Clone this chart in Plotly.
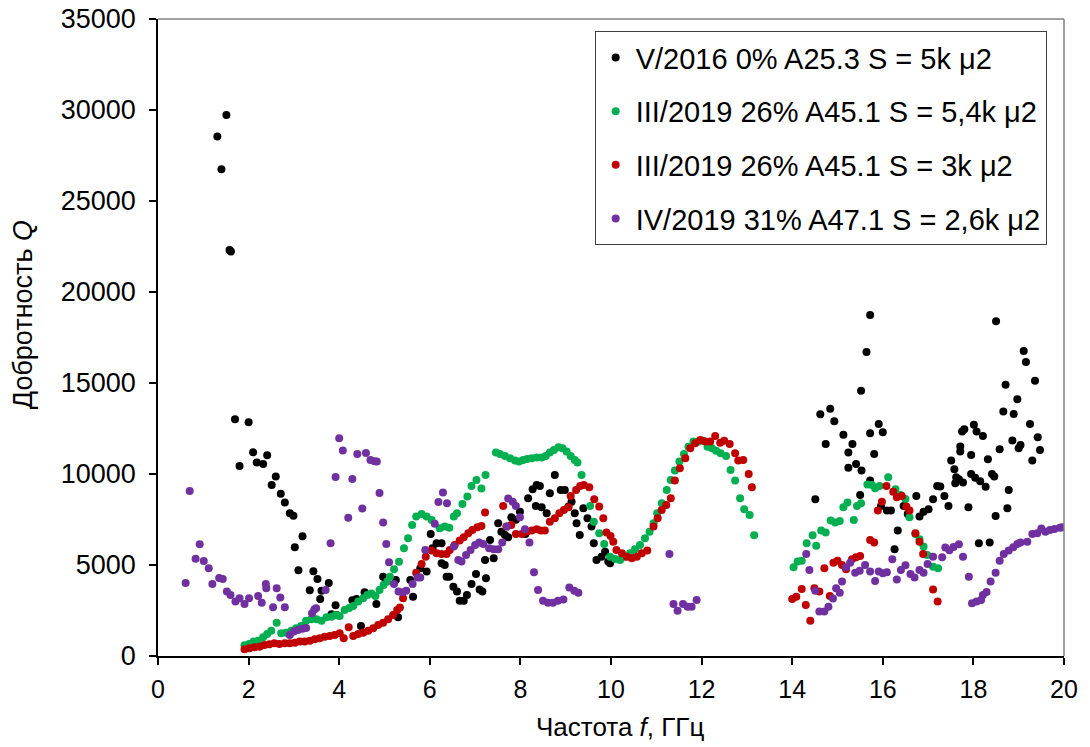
import plotly.graph_objects as go

# Quality factor Q versus frequency f (GHz) for four samples

names = [
    "V/2016 0% A25.3 S = 5k μ2",
    "III/2019 26% A45.1 S = 5,4k μ2",
    "III/2019 26% A45.1 S = 3k μ2",
    "IV/2019 31% A47.1 S = 2,6k μ2",
]
colors = ["#000000", "#00B050", "#C00000", "#7030A0"]

f_v2016 = [
    1.31, 1.40, 1.51, 1.58, 1.61, 1.70, 1.80, 2.00, 2.10, 2.18, 2.32, 2.41, 2.51, 2.60,
    2.71, 2.80, 2.91, 2.99, 3.02, 3.10, 3.19, 3.35, 3.43, 3.52, 3.58, 3.61, 3.77, 3.83,
    3.92, 3.94, 4.29, 4.38, 4.48, 4.56, 4.82, 4.97, 5.03, 5.25, 5.30, 5.57, 5.63, 5.79,
    5.93, 6.02, 6.06, 6.15, 6.26, 6.26, 6.33, 6.37, 6.43, 6.52, 6.60, 6.66, 6.75, 6.82,
    6.92, 7.02, 7.10, 7.16, 7.24, 7.22, 7.33, 7.41, 7.51, 7.58, 7.66, 7.73, 7.80, 7.90,
    7.99, 8.11, 8.17, 8.27, 8.36, 8.43, 8.34, 8.47, 8.58, 8.65, 8.76, 8.89, 8.98, 9.06,
    9.13, 9.20, 9.24, 9.31, 9.39, 9.48, 9.57, 9.62, 9.68, 9.79, 9.87, 9.94, 9.98,
    14.51, 14.62, 14.74, 14.84, 14.93, 15.13, 15.24, 15.33, 15.24, 15.41, 15.53, 15.52,
    15.50, 15.64, 15.72, 15.72, 15.81, 15.91, 16.00, 15.72, 15.96, 16.09, 16.18, 16.33,
    16.26, 16.46, 16.55, 16.74, 16.81, 16.90, 17.01, 17.11, 17.20, 17.27, 17.36, 17.45,
    17.51, 17.58, 17.62, 17.68, 17.71, 17.75, 17.80, 17.71, 17.60, 17.77, 17.89, 17.95,
    18.01, 18.07, 18.21, 17.95, 18.04, 18.15, 18.27, 18.32, 18.41, 18.46, 18.12, 18.36,
    18.49, 18.50, 18.58, 18.66, 18.71, 18.75, 18.78, 18.89, 18.97, 18.86, 19.00, 19.04,
    19.11, 19.16, 19.25, 19.30, 19.36, 19.42, 19.47,
]
q_v2016 = [
    28540, 26740, 29730, 22310, 22220, 13010, 10440, 12840, 11190, 10630, 10550, 11030, 9400, 9860,
    8920, 8430, 7840, 7710, 5970, 4710, 6580, 3610, 4650, 4230, 3130, 3590, 4010, 2290,
    2790, 2250, 3060, 3130, 1650, 3500, 2860, 4360, 4090, 4180, 2130, 4180, 3260, 4820,
    4640, 6710, 5920, 6190, 5090, 6190, 5000, 4360, 4360, 3810, 3540, 3040, 3040, 3350,
    3960, 4510, 3660, 3540, 4270, 5280, 6380, 5370, 7290, 6830, 6650, 6520, 7620, 7480,
    7930, 6710, 8670, 9160, 9400, 9340, 8240, 8170, 7840, 8940, 9950, 9120, 9120, 8210,
    8480, 7840, 7290, 6650, 8120, 7570, 7110, 6190, 5280, 5460, 5730, 5190, 5090,
    8610, 13280, 11650, 13590, 12900, 12150, 11180, 11650, 10350, 10550, 10190, 14580,
    8850, 16710, 18740, 12240, 11100, 12750, 12290, 9640, 8240, 7990, 7990, 6890,
    5860, 8240, 7800, 8790, 7660, 7930, 8060, 8610, 9340, 9310, 8790, 8240,
    10740, 10260, 9820, 9710, 11510, 12330, 12460, 11230, 9490, 9530, 8170, 11050,
    12700, 12330, 12090, 10000, 9800, 9600, 9300, 10810, 10000, 9860, 6190, 6230,
    7690, 18390, 11360, 13430, 14900, 8120, 9120, 13300, 14110, 11840, 11410, 11600,
    16760, 16160, 12750, 10740, 15130, 12020, 11320,
]

f_iii2019_54k = [
    1.91, 2.01, 2.11, 2.21, 2.32, 2.41, 2.50, 2.62, 2.72, 2.83, 2.94, 3.05, 3.16, 3.27,
    3.38, 3.50, 3.61, 3.72, 3.83, 3.92, 4.01, 4.12, 4.22, 4.31, 4.42, 4.53, 4.62, 4.71,
    4.80, 4.89, 4.98, 5.06, 5.12, 5.21, 5.32, 5.43, 5.52, 5.61, 5.70, 5.82, 5.93, 6.04,
    6.22, 6.33, 6.43, 6.53, 6.60, 6.72, 6.83, 6.92, 7.03, 7.14, 7.23, 7.46, 7.55, 7.66,
    7.77, 7.88, 7.97, 8.06, 8.15, 8.25, 8.36, 8.47, 8.56, 8.65, 8.74, 8.84, 8.93, 9.02,
    9.11, 9.20, 9.26, 9.35, 9.54, 9.62, 9.74, 9.85, 9.98, 10.09, 10.20, 10.31, 10.42,
    10.53, 10.64, 10.75, 10.85, 10.94, 11.02, 11.12, 11.23, 11.32, 11.41, 11.51, 11.61,
    11.71, 11.82, 11.93, 12.03, 12.13, 12.23, 12.32, 12.42, 12.54, 12.64, 12.74, 12.85,
    12.94, 13.06, 13.16,
    14.03, 14.12, 14.21, 14.32, 14.45, 14.53, 14.64, 14.74, 14.85, 14.95, 15.05, 15.13,
    15.22, 15.36, 15.43, 15.52, 15.66, 15.76, 15.83, 15.93, 16.12, 16.28, 16.39, 16.50,
    16.59, 16.72, 16.81, 16.90, 16.98, 17.11, 17.22,
]
q_iii2019_54k = [
    590, 660, 790, 840, 1030, 1210, 1390, 1830, 1250, 1280, 1390, 1520, 1650, 1940,
    2020, 2020, 1940, 2130, 2160, 2250, 2200, 2530, 2640, 2750, 2990, 3170, 3350, 3440,
    3300, 3630, 3900, 4090, 4360, 4760, 5180, 5920, 6470, 7200, 7660, 7800, 7660, 7470,
    7020, 7110, 7050, 7660, 7840, 8350, 8760, 9340, 9670, 9200, 9950, 11180, 11100, 10990,
    10860, 10740, 10680, 10770, 10830, 10860, 10900, 10900, 10990, 11180, 11320, 11470, 11410, 11230,
    10990, 10770, 10630, 9950, 8240, 7380, 6740, 6160, 5460, 5330, 5280, 5460, 5640,
    5860, 6100, 6470, 6830, 7290, 7840, 8390, 9120, 9670, 10190, 10680, 11100,
    11500, 11780, 11780, 11830, 11500, 11410, 11280, 11140, 10990, 10220, 9640, 8670,
    8060, 7750, 6630,
    4870, 5190, 5240, 6190, 6630, 6060, 6890, 6780, 7440, 7330, 7420, 8170,
    8430, 7470, 8240, 8390, 9420, 9400, 9220, 9340, 9820, 9160, 8850, 8630,
    7620, 6710, 6410, 6010, 5550, 4910, 4820,
]

f_iii2019_3k = [
    1.91, 2.02, 2.13, 2.24, 2.35, 2.46, 2.57, 2.68, 2.80, 2.91, 3.02, 3.13, 3.24, 3.35,
    3.46, 3.57, 3.68, 3.79, 3.90, 4.01, 4.10, 4.21, 4.31, 4.42, 4.53, 4.64, 4.75, 4.86,
    4.97, 5.08, 5.19, 5.28, 5.34, 5.41, 5.70, 5.82, 5.91, 6.04, 6.15, 6.26, 6.37, 6.44,
    6.55, 6.66, 6.75, 6.85, 6.94, 7.05, 7.14, 7.22, 7.62, 7.69, 7.80, 7.90, 8.03, 8.14,
    8.25, 8.36, 8.45, 8.54, 8.65, 8.76, 8.86, 8.96, 9.06, 9.11, 9.23, 9.32, 9.40, 9.52,
    9.63, 9.74, 9.83, 9.90, 9.99, 10.05, 10.12, 10.24, 10.35, 10.46, 10.57, 10.68, 10.80,
    10.94, 11.03, 11.12, 11.22, 11.32, 11.41, 11.52, 11.64, 11.75, 11.86, 11.97, 12.08,
    12.19, 12.30, 12.41, 12.50, 12.62, 12.74, 12.81, 12.92, 13.04, 13.11,
    14.00, 14.09, 14.21, 14.30, 14.40, 14.49, 14.60, 14.71, 14.83, 14.91, 15.00, 15.10,
    15.19, 15.32, 15.41, 15.50, 15.72, 15.81, 15.89, 15.98, 16.08, 16.23, 16.31, 16.42,
    16.52, 16.59, 16.72, 16.81, 16.89, 17.11, 17.21,
]
q_iii2019_3k = [
    370, 420, 480, 510, 600, 640, 700, 660, 700, 700, 730, 790, 790, 840,
    920, 970, 1060, 1100, 1150, 1250, 970, 1580, 1100, 1210, 1280, 1390, 1520, 1700,
    1830, 2020, 2250, 2530, 2660, 3170, 4580, 5060, 5460, 5790, 5640, 5610, 5610, 5830,
    6100, 6340, 6520, 6740, 6920, 7070, 7140, 7880, 8240, 7110, 7200, 6710, 6710, 6830,
    6890, 6960, 6890, 6890, 7380, 7570, 7840, 8020, 8170, 8790, 9120, 9340, 9400, 9270,
    8610, 8210, 7570, 6780, 6600, 6280, 5830, 5640, 5460, 5370, 5460, 5640, 5790,
    7110, 7570, 8020, 8300, 8670, 9640, 10310, 10860, 11410, 11690, 11870, 11780,
    11780, 12090, 11720, 11830, 11650, 11140, 10740, 10770, 10000, 9270,
    3130, 3260, 3680, 2800, 1940, 3720, 3540, 4820, 3300, 5130, 5240, 5000,
    4760, 5310, 5420, 5500, 6380, 6230, 7990, 8480, 9340, 9030, 8720, 8790,
    8210, 7990, 6740, 6280, 5610, 3660, 2990,
]

f_iv2019 = [
    0.61, 0.70, 0.83, 0.92, 1.01, 1.12, 1.20, 1.35, 1.43, 1.52, 1.60, 1.71, 1.80, 1.91,
    2.01, 2.21, 2.29, 2.38, 2.39, 2.54, 2.62, 2.70, 2.80, 2.91, 3.00, 3.09, 3.19, 3.27,
    3.40, 3.45, 3.49, 3.70, 3.81, 3.92, 4.00, 4.08, 4.20, 4.29, 4.40, 4.51, 4.59, 4.69,
    4.78, 4.83, 4.89, 4.97, 5.04, 5.10, 5.21, 5.31, 5.40, 5.48, 5.62, 5.73, 5.79, 5.90,
    6.11, 6.19, 6.29, 6.38, 6.53, 6.63, 6.70, 6.80, 6.90, 7.00, 7.09, 7.18, 7.31, 7.41,
    7.51, 7.60, 7.70, 7.73, 7.83, 7.90, 7.99, 8.10, 8.20, 8.30, 8.39, 8.50, 8.61, 8.72,
    8.83, 8.95, 9.08, 9.19, 9.28,
    11.29, 11.38, 11.47, 11.59, 11.69, 11.78, 11.89,
    14.31, 14.38, 14.51, 14.60, 14.71, 14.80, 14.90, 14.97, 15.05, 15.10, 15.19, 15.28,
    15.39, 15.49, 15.61, 15.72, 15.83, 15.91, 16.00, 16.09, 16.21, 16.31, 16.40, 16.50,
    16.61, 16.70, 16.81, 16.90, 16.99, 17.11, 17.31, 17.38, 17.47, 17.56, 17.68, 17.77,
    17.90, 17.97, 18.07, 18.17, 18.21, 18.29, 18.38, 18.49, 18.58, 18.67, 18.78, 18.88,
    18.97, 19.04, 19.19, 19.30, 19.41, 19.50, 19.59, 19.69, 19.79, 19.91, 19.96,
]
q_iv2019 = [
    4010, 9070, 5350, 6140, 5220, 4820, 3960, 4290, 4230, 3550, 3350, 3000, 3170, 2860,
    3170, 3300, 2930, 3960, 3720, 2680, 3720, 3210, 2680, 1150, 1340, 1430, 1500, 1540,
    2350, 2560, 2620, 3630, 6190, 9840, 11960, 11290, 7600, 9730, 11100, 8100, 11160, 10770,
    10700, 10680, 8960, 7330, 6160, 5150, 3960, 3540, 3500, 3590, 3960, 4320, 4320, 5830,
    7260, 8460, 8980, 8390, 6010, 5280, 5190, 5550, 5830, 6100, 6230, 6160, 5920, 5860,
    5860, 6230, 7110, 8660, 8480, 8240, 7620, 6960, 6230, 4600, 3630, 3040, 2930, 2930,
    3040, 3110, 3770, 3590, 3480,
    5610, 2860, 2490, 2860, 2710, 2710, 3080,
    5610, 4730, 3590, 2440, 2440, 2710, 3160, 3720, 3480, 4090, 4870, 5130,
    4580, 4690, 5000, 4640, 4120, 4640, 4550, 4600, 5310, 4210, 4730, 4980,
    4510, 4320, 4730, 4580, 5060, 5460, 5420, 5960, 5810, 5990, 6140, 5460,
    4360, 2900, 2990, 3080, 3350, 3520, 4090, 4580, 5240, 5610, 5790, 5980,
    6160, 6230, 6280, 6710, 6740, 7010, 6830, 6920, 6980, 7050, 7070,
]

x_ticks = list(range(0, 21, 2))
y_ticks = list(range(0, 35001, 5000))

series = [
    (f_v2016, q_v2016),
    (f_iii2019_54k, q_iii2019_54k),
    (f_iii2019_3k, q_iii2019_3k),
    (f_iv2019, q_iv2019),
]

FONT = "Liberation Sans, Arial, sans-serif"

fig = go.Figure()
for i, ((fx, qy), name, col) in enumerate(zip(series, names, colors)):
    fig.add_trace(go.Scatter(
        x=fx, y=qy, mode="markers", name=name, legendgroup=f"g{i}",
        marker=dict(color=col, size=8, line=dict(width=0)),
    ))

fig.update_layout(
    width=1090, height=747,
    margin=dict(l=158, r=26, t=19, b=91),
    paper_bgcolor="white", plot_bgcolor="white",
    font=dict(family=FONT, color="#000000"),
    showlegend=True,
    legend=dict(
        x=0.482, y=0.981, xanchor="left", yanchor="top",
        bgcolor="white", bordercolor="#404040", borderwidth=1,
        font=dict(size=29, family=FONT),
        tracegroupgap=13, itemsizing="trace",
    ),
    xaxis=dict(
        range=[0, 20], tickvals=x_ticks, ticktext=[str(v) for v in x_ticks],
        showgrid=False, zeroline=False, showline=True, linecolor="#000000", linewidth=1.5,
        ticks="outside", ticklen=7, tickwidth=1.5, tickcolor="#000000",
        tickfont=dict(size=25, family=FONT), ticklabelstandoff=3,
        automargin=False,
    ),
    yaxis=dict(
        range=[0, 35000], tickvals=y_ticks, ticktext=[str(v) for v in y_ticks],
        showgrid=False, zeroline=False, showline=True, linecolor="#000000", linewidth=1.5,
        ticks="outside", ticklen=7, tickwidth=1.5, tickcolor="#000000",
        tickfont=dict(size=27, family=FONT), ticklabelstandoff=8,
        automargin=False,
    ),
    shapes=[
        dict(type="line", xref="paper", yref="paper", x0=0, x1=1, y0=1, y1=1,
             line=dict(color="#808080", width=1.5)),
        dict(type="line", xref="paper", yref="paper", x0=1, x1=1, y0=0, y1=1,
             line=dict(color="#808080", width=1.5)),
    ],
    annotations=[
        dict(text="Частота <i>f</i>, ГГц", xref="paper", yref="paper",
             x=0.51, y=-0.112, xanchor="center", yanchor="middle",
             showarrow=False, font=dict(size=26, family=FONT)),
        dict(text="Добротность <i>Q</i>", xref="paper", yref="paper",
             x=-0.149, y=0.535, xanchor="center", yanchor="middle", textangle=-90,
             showarrow=False, font=dict(size=27, family=FONT)),
    ],
)

fig.write_html("out.html")
